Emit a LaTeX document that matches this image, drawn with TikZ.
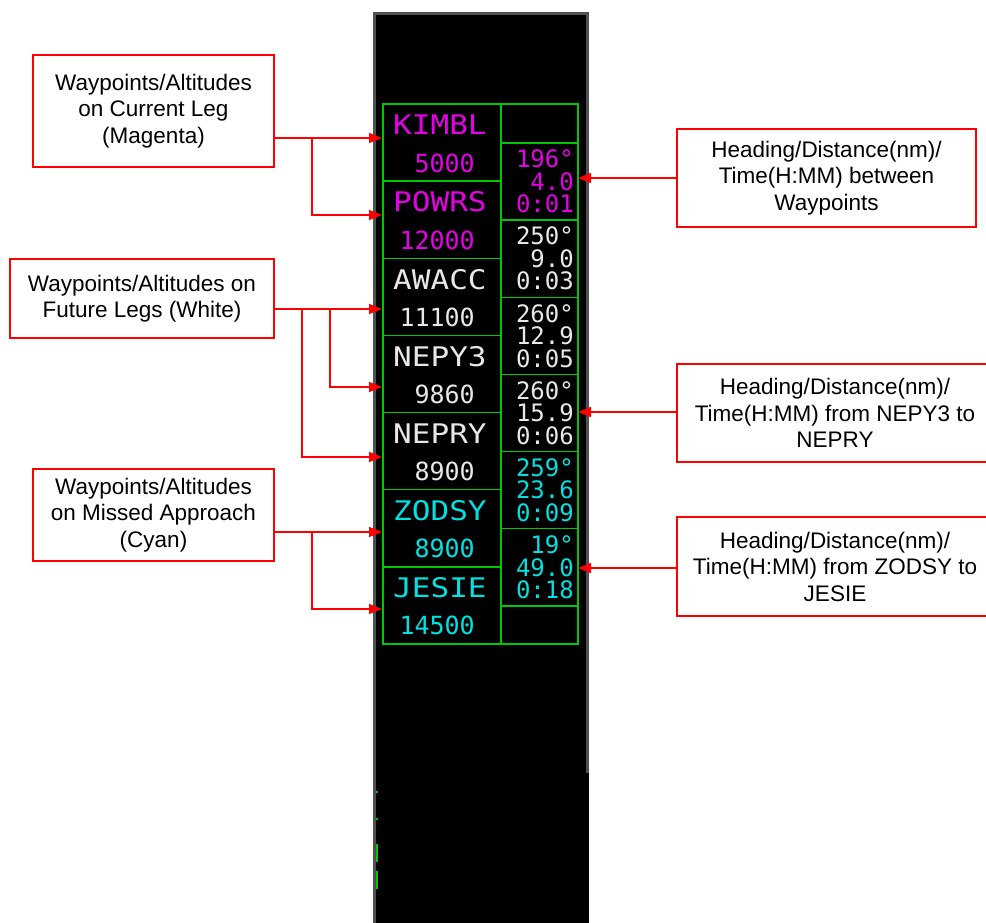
\documentclass[tikz,border=0pt]{standalone}
\usepackage{fontspec}
\setmainfont{Liberation Sans}
\newfontfamily\fmsname[FakeStretch=1.15]{DejaVu Sans Mono}
\newfontfamily\fmsnum{DejaVu Sans Mono}
\usetikzlibrary{arrows.meta}
\definecolor{fmsmag}{RGB}{230,0,230}
\definecolor{fmswht}{RGB}{232,232,232}
\definecolor{fmscyn}{RGB}{0,225,225}
\definecolor{fmsgrn}{RGB}{0,200,0}
\definecolor{bezel}{RGB}{80,80,80}
\tikzset{
  callout/.style={draw=red, line width=1.5pt, fill=white, align=center, inner sep=0pt,
    font=\fontsize{22.5}{26.5}\selectfont},
  leader/.style={red, line width=1.5pt},
  cellline/.style={fmsgrn, line width=1.5pt},
  wpname/.style={anchor=west, inner sep=0pt, font=\fmsname\fontsize{27}{27}\selectfont},
  wpalt/.style={anchor=east, inner sep=0pt, font=\fmsnum\fontsize{25}{25}\selectfont},
  legdata/.style={anchor=east, inner sep=0pt, align=right, font=\fmsnum\fontsize{24}{22.5}\selectfont},
}
\begin{document}
\begin{tikzpicture}[x=1pt, y=-1pt, >={Triangle[length=13pt,width=10pt]}]
  \useasboundingbox (0,0) rectangle (986,923);
  % display
  \fill[black] (373,12) rectangle (589,923);
  \draw[bezel, line width=3pt] (374.5,923) -- (374.5,13.5) -- (587.5,13.5) -- (587.5,773);
  \draw[cellline] (377,791) -- (377,793);
  \draw[cellline] (377,818) -- (377,820);
  \draw[cellline] (377,844) -- (377,862);
  \draw[cellline] (377,871) -- (377,889);
  % waypoint column
  \foreach \wpt/\alt/\col [count=\i] in {KIMBL/5000/fmsmag, POWRS/12000/fmsmag,
      AWACC/11100/fmswht, NEPY3/9860/fmswht, NEPRY/8900/fmswht,
      ZODSY/8900/fmscyn, JESIE/14500/fmscyn} {
    \pgfmathsetmacro{\rowtop}{104+77.14*(\i-1)}
    \draw[cellline] (383,\rowtop) rectangle (501,\rowtop+77.14);
    \node[wpname, text=\col] (name\i) at (393,\rowtop+21) {\wpt};
    \node[wpalt, text=\col] (alt\i) at (475,\rowtop+59) {\alt};
  }
  % leg column
  \draw[cellline] (501,104) rectangle (578,143);
  \foreach \hdg/\dst/\tim/\col [count=\j] in {196°/4.0/0:01/fmsmag, 250°/9.0/0:03/fmswht,
      260°/12.9/0:05/fmswht, 260°/15.9/0:06/fmswht, 259°/23.6/0:09/fmscyn,
      19°/49.0/0:18/fmscyn} {
    \pgfmathsetmacro{\legtop}{143+77.14*(\j-1)}
    \draw[cellline] (501,\legtop) rectangle (578,\legtop+77.14);
    \node[legdata, text=\col] (leg\j) at (574,\legtop+38.6) {\hdg\\\dst\\\tim};
  }
  \draw[cellline] (501,605.8) rectangle (578,644);
  % callouts
  \node[callout, minimum width=241pt, minimum height=112pt] (curleg) at (153.5,111)
    {Waypoints/Altitudes\\on Current Leg\\(Magenta)};
  \node[callout, minimum width=264pt, minimum height=79pt] (futleg) at (142,298.5)
    {Waypoints/Altitudes on\\Future Legs (White)};
  \node[callout, minimum width=241pt, minimum height=92pt] (misapp) at (153.5,515)
    {Waypoints/Altitudes\\on Missed Approach\\(Cyan)};
  \node[callout, minimum width=299pt, minimum height=98pt] (legnote) at (826.5,178)
    {Heading/Distance(nm)/\\Time(H:MM) between\\Waypoints};
  \node[callout, minimum width=316pt, minimum height=98pt] (nepnote) at (835,413)
    {Heading/Distance(nm)/\\Time(H:MM) from NEPY3 to\\NEPRY};
  \node[callout, minimum width=316pt, minimum height=99pt] (zodnote) at (835,566.5)
    {Heading/Distance(nm)/\\Time(H:MM) from ZODSY to\\JESIE};
  % leader targets
  \coordinate (kimbl) at (382,138);
  \coordinate (powrs) at (382,215);
  \coordinate (awacc) at (382,309);
  \coordinate (nepy3) at (382,387);
  \coordinate (nepry) at (382,457);
  \coordinate (zodsy) at (382,532);
  \coordinate (jesie) at (382,609);
  \coordinate (legA) at (578,178);
  \coordinate (legB) at (578,412);
  \coordinate (legC) at (578,568);
  \coordinate (j1) at (312,138);
  \coordinate (j2) at (330,309);
  \coordinate (j3) at (302,309);
  \coordinate (j4) at (312,532);
  \draw[leader, ->] (curleg.east |- kimbl) -- (kimbl);
  \draw[leader, ->] (j1) |- (powrs);
  \draw[leader, ->] (futleg.east |- awacc) -- (awacc);
  \draw[leader, ->] (j2) |- (nepy3);
  \draw[leader, ->] (j3) |- (nepry);
  \draw[leader, ->] (misapp.east |- zodsy) -- (zodsy);
  \draw[leader, ->] (j4) |- (jesie);
  \draw[leader, ->] (legnote.west |- legA) -- (legA);
  \draw[leader, ->] (nepnote.west |- legB) -- (legB);
  \draw[leader, ->] (zodnote.west |- legC) -- (legC);
\end{tikzpicture}
\end{document}
